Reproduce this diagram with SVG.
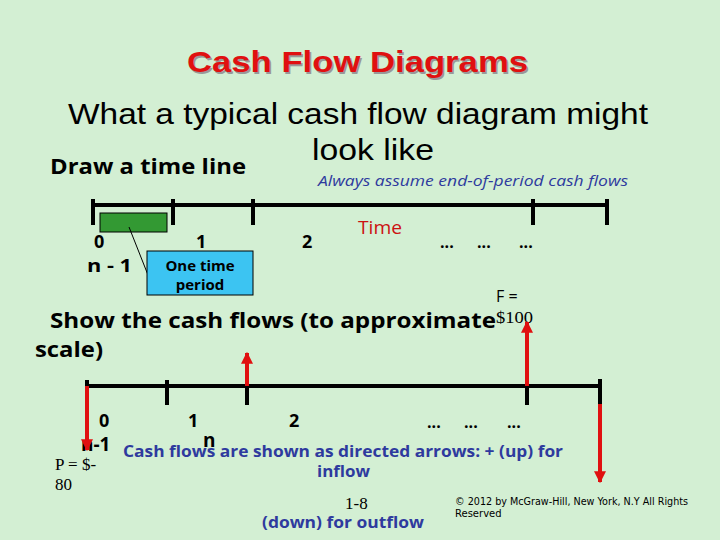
<svg xmlns="http://www.w3.org/2000/svg" width="720" height="540" viewBox="0 0 720 540">
<style>
.sans{font-family:"Open Sans","Liberation Sans",sans-serif}
.b{font-weight:bold}
.blue{fill:#2e3a9e}
.line{stroke:#000;stroke-width:4;fill:none}
.arrow{stroke:#e01010;stroke-width:4;fill:none}
.ser{font-family:"Liberation Serif",serif}
</style>
<defs>
<marker id="ah" viewBox="0 0 10 10" refX="9" refY="5" markerWidth="3" markerHeight="3" orient="auto" markerUnits="strokeWidth">
<path d="M0,0 L10,5 L0,10 z" fill="#e01010"/>
</marker>
</defs>
<rect width="720" height="540" fill="#d3efd3"/>

<g id="title">
<text x="188.5" y="73.5" font-family="Liberation Sans, sans-serif" font-weight="bold" font-size="30" fill="#999" textLength="341" lengthAdjust="spacingAndGlyphs">Cash Flow Diagrams</text>
<text x="187" y="72" font-family="Liberation Sans, sans-serif" font-weight="bold" font-size="30" fill="#e01010" textLength="341" lengthAdjust="spacingAndGlyphs">Cash Flow Diagrams</text>
</g>
<g id="heading" font-family="Liberation Sans, sans-serif" font-size="29" fill="#000">
<text x="68" y="124" textLength="580" lengthAdjust="spacingAndGlyphs">What a typical cash flow diagram might</text>
<text x="312" y="160" textLength="122" lengthAdjust="spacingAndGlyphs">look like</text>
</g>
<text id="draw" class="sans b" x="50" y="174" font-size="21" textLength="196" lengthAdjust="spacingAndGlyphs">Draw a time line</text>
<text id="always" class="sans blue" x="318" y="186" font-size="14" font-style="italic" textLength="310" lengthAdjust="spacingAndGlyphs">Always assume end-of-period cash flows</text>

<g id="timeline1">
<path class="line" d="M93,205 H607 M93,199 V225 M173,199 V225 M253,199 V225 M533,199 V225 M607,199 V225"/>
<rect x="100" y="213" width="67" height="19" fill="#339933" stroke="#000" stroke-width="1"/>
<g class="sans b" font-size="18">
<text x="94" y="248">0</text>
<text x="196" y="248">1</text>
<text x="302" y="248">2</text>
<text x="87" y="272" textLength="45" lengthAdjust="spacingAndGlyphs">n - 1</text>
<text x="440" y="248" font-size="16">...</text>
<text x="477" y="248" font-size="16">...</text>
<text x="519" y="248" font-size="16">...</text>
</g>
<text x="358" y="234" class="sans" font-size="18" fill="#cc1111" textLength="44" lengthAdjust="spacingAndGlyphs">Time</text>
</g>

<g id="callout">
<line x1="129" y1="227" x2="148" y2="275" stroke="#000" stroke-width="1"/>
<rect x="147" y="251" width="106" height="44" fill="#3cc4f2" stroke="#000" stroke-width="1"/>
<text x="200" y="271" class="sans b" font-size="15" text-anchor="middle">One time</text>
<text x="200" y="290" class="sans b" font-size="15" text-anchor="middle">period</text>
</g>

<g id="show" class="sans b" font-size="21">
<text x="50" y="328" textLength="446" lengthAdjust="spacingAndGlyphs">Show the cash flows (to approximate</text>
<text x="35" y="357" textLength="68" lengthAdjust="spacingAndGlyphs">scale)</text>
</g>
<g id="flabel">
<text x="496" y="302" class="sans" font-size="16">F =</text>
<text x="496" y="323" class="ser" font-size="17" textLength="37" lengthAdjust="spacingAndGlyphs">$100</text>
</g>

<g id="timeline2">
<path class="line" d="M87,386 H600 M87,380 V390 M167,380 V405 M247,386 V405 M527,386 V405 M600,379 V405"/>
<g class="sans b" font-size="18">
<text x="99" y="427">0</text>
<text x="188" y="427">1</text>
<text x="289" y="427">2</text>
<text x="427" y="428" font-size="16">...</text>
<text x="464" y="428" font-size="16">...</text>
<text x="507" y="428" font-size="16">...</text>
<text x="81" y="451" font-size="19">n-1</text>
<text x="203" y="447" font-size="19">n</text>
</g>
</g>

<g id="connectors">
<line class="arrow" x1="87" y1="386" x2="87" y2="450" marker-end="url(#ah)"/>
<line class="arrow" x1="247" y1="386" x2="247" y2="353" marker-end="url(#ah)"/>
<line class="arrow" x1="527" y1="386" x2="527" y2="322" marker-end="url(#ah)"/>
<line class="arrow" x1="600" y1="404" x2="600" y2="482" marker-end="url(#ah)"/>
</g>

<g id="notes">
<text x="123" y="457" class="sans b blue" font-size="16" textLength="440" lengthAdjust="spacingAndGlyphs">Cash flows are shown as directed arrows: + (up) for</text>
<text x="317" y="477" class="sans b blue" font-size="16" textLength="53" lengthAdjust="spacingAndGlyphs">inflow</text>
<text x="262" y="528" class="sans b blue" font-size="16" textLength="162" lengthAdjust="spacingAndGlyphs">(down) for outflow</text>
<text x="345" y="509" class="ser" font-size="17">1-8</text>
<text x="55" y="470" class="ser" font-size="17">P = $-</text>
<text x="55" y="490" class="ser" font-size="17">80</text>
</g>
<g id="copyright" font-family="DejaVu Sans, sans-serif" font-size="10">
<text x="455" y="505" textLength="233" lengthAdjust="spacingAndGlyphs">© 2012 by McGraw-Hill, New York, N.Y All Rights</text>
<text x="455" y="517">Reserved</text>
</g>
</svg>
